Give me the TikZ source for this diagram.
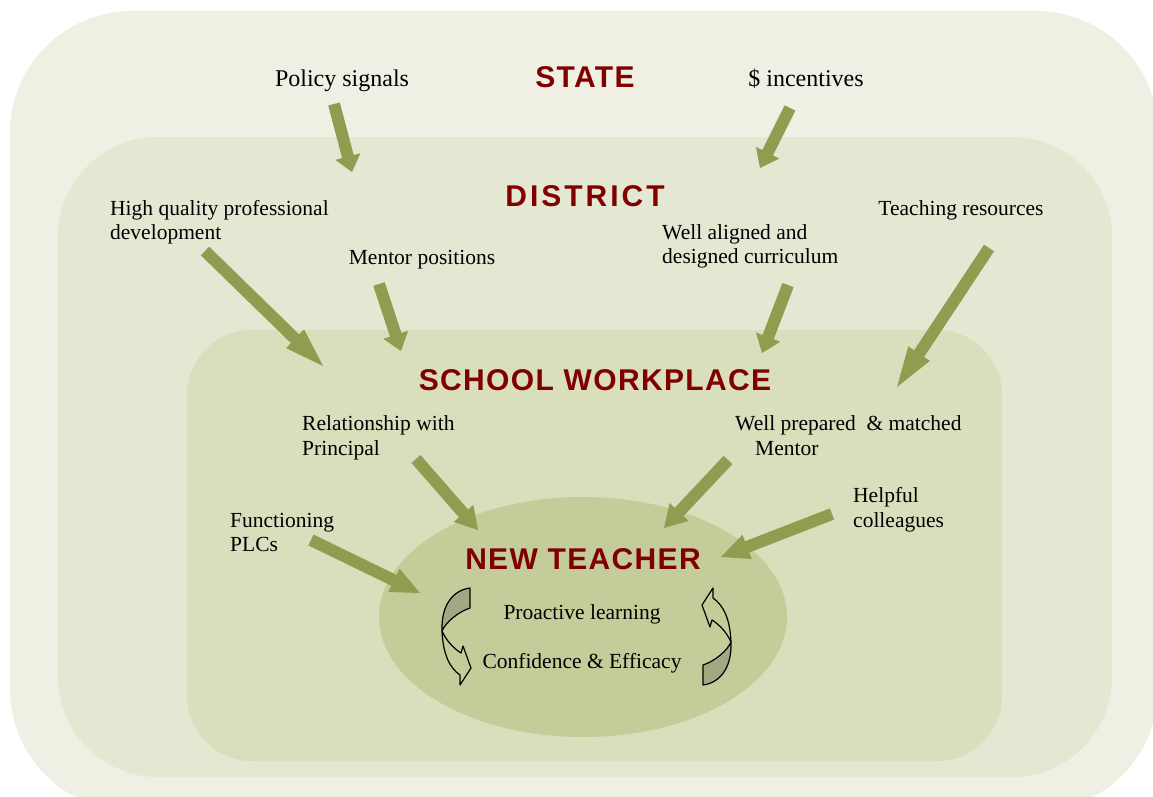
\documentclass[tikz,border=0pt]{standalone}
\usepackage{fontspec}
\setmainfont{Liberation Serif}
\newfontfamily\titlefont[LetterSpace=4.5]{Liberation Sans}
\newfontfamily\titlefontw[LetterSpace=10]{Liberation Sans}
\usetikzlibrary{calc}
\definecolor{outerc}{HTML}{EFF0E3}
\definecolor{midc}{HTML}{E4E7D2}
\definecolor{innerc}{HTML}{D9DEBD}
\definecolor{ellc}{HTML}{C4CC9A}
\definecolor{arrowc}{HTML}{8E9D50}
\definecolor{shadec}{HTML}{A2A883}
\definecolor{titlec}{HTML}{800000}
\newcommand{\blockarr}[3]{%
  \coordinate (hb) at ($(#2)!#3!(#1)$);
  \fill[arrowc] ($(#1)!6pt!90:(#2)$) -- ($(hb)!6pt!90:(#2)$) -- ($(hb)!13pt!90:(#2)$) -- (#2)
    -- ($(hb)!13pt!-90:(#2)$) -- ($(hb)!6pt!-90:(#2)$) -- ($(#1)!6pt!-90:(#2)$) -- cycle;
}
\newcommand{\curvarr}{%
  \fill[shadec, draw=black, line width=1.2pt, line join=round]
    (14,-48) -- (14,-28) .. controls (2,-24) and (-10,-14) .. (-14,-5)
    .. controls (-15,-32) and (-2,-46) .. (14,-48) -- cycle;
  \draw[black, line width=1.2pt, line join=round]
    (-14,-5) .. controls (-10,4) and (-3,12) .. (5,17) -- (7,10) -- (15,32) -- (4,49) -- (4,39)
    .. controls (-6,32) and (-13,19) .. (-14,-5);
}
\begin{document}
\begin{tikzpicture}[x=1pt,y=-1pt,
  serif/.style={font=\fontsize{21.5}{24.5}\selectfont, inner sep=0pt, align=left},
  bigserif/.style={font=\fontsize{24}{27}\selectfont, inner sep=0pt},
  title/.style={font=\titlefont\bfseries\fontsize{30}{33}\selectfont, text=titlec, inner sep=0pt}]
\useasboundingbox (0,0) rectangle (1153,797);
\fill[white] (0,0) rectangle (1153,797);
\begin{scope}
\clip (0,0) rectangle (1153,797);
\fill[outerc, rounded corners=122pt] (10,11) rectangle (1158,811);
\end{scope}
\fill[midc, rounded corners=100pt] (58,137) rectangle (1112,777);
\fill[innerc, rounded corners=65pt] (187,330) rectangle (1002,761);
\fill[ellc] (583,617) ellipse [x radius=204, y radius=120];

% titles
\node[title, anchor=base] (state) at (585,88) {STATE};
\node[title, font=\titlefontw\bfseries\fontsize{30}{33}\selectfont, anchor=base] (district) at (585,206) {DISTRICT};
\node[title, anchor=base] (school) at (595,390) {SCHOOL WORKPLACE};
\node[title, anchor=base] (teacher) at (583,569) {NEW TEACHER};

% labels
\node[bigserif, anchor=base] (policy) at (342,87) {Policy signals};
\node[bigserif, anchor=base] (incent) at (806,87) {\$ incentives};
\node[serif, anchor=base west] (hqpd1) at (110,215) {High quality professional};
\node[serif, anchor=base west] (hqpd2) at (110,239) {development};
\node[serif, anchor=base] (mentorpos) at (422,264) {Mentor positions};
\node[serif, anchor=base west] (curr1) at (662,239) {Well aligned and};
\node[serif, anchor=base west] (curr2) at (662,263) {designed curriculum};
\node[serif, anchor=base] (teachres) at (961,215) {Teaching resources};
\node[serif, anchor=base west] (rel1) at (302,430) {Relationship with};
\node[serif, anchor=base west] (rel2) at (302,455) {Principal};
\node[serif, anchor=base west] (prep1) at (735,430) {Well prepared\ \ \& matched};
\node[serif, anchor=base west] (prep2) at (755,455) {Mentor};
\node[serif, anchor=base west] (plc1) at (230,527) {Functioning};
\node[serif, anchor=base west] (plc2) at (230,551) {PLCs};
\node[serif, anchor=base west] (help1) at (853,502) {Helpful};
\node[serif, anchor=base west] (help2) at (853,527) {colleagues};
\node[serif, anchor=base] (proact) at (582,619) {Proactive learning};
\node[serif, anchor=base] (conf) at (582,668) {Confidence \& Efficacy};

% arrow end points
\coordinate (a1t) at (334,104); \coordinate (a1h) at (352,172);
\coordinate (a2t) at (790,108); \coordinate (a2h) at (760,168);
\coordinate (a3t) at (205,251); \coordinate (a3h) at (323,366);
\coordinate (a4t) at (379,284); \coordinate (a4h) at (401,351);
\coordinate (a5t) at (788,285); \coordinate (a5h) at (762,353);
\coordinate (a6t) at (989,248); \coordinate (a6h) at (897,387);
\coordinate (a7t) at (416,459); \coordinate (a7h) at (478,530);
\coordinate (a8t) at (728,460); \coordinate (a8h) at (664,528);
\coordinate (a9t) at (832,514); \coordinate (a9h) at (721,557);
\coordinate (a10t) at (311,540); \coordinate (a10h) at (420,593);

\blockarr{a1t}{a1h}{16pt}
\blockarr{a2t}{a2h}{17pt}
\blockarr{a3t}{a3h}{39pt}
\blockarr{a4t}{a4h}{17pt}
\blockarr{a5t}{a5h}{17pt}
\blockarr{a6t}{a6h}{40pt}
\blockarr{a7t}{a7h}{22pt}
\blockarr{a8t}{a8h}{22pt}
\blockarr{a9t}{a9h}{28pt}
\blockarr{a10t}{a10h}{29pt}

% curved cycle arrows
\begin{scope}[shift={(456,636)}]
\curvarr
\end{scope}
\begin{scope}[shift={(717,637)}, rotate=180]
\curvarr
\end{scope}
\end{tikzpicture}
\end{document}
